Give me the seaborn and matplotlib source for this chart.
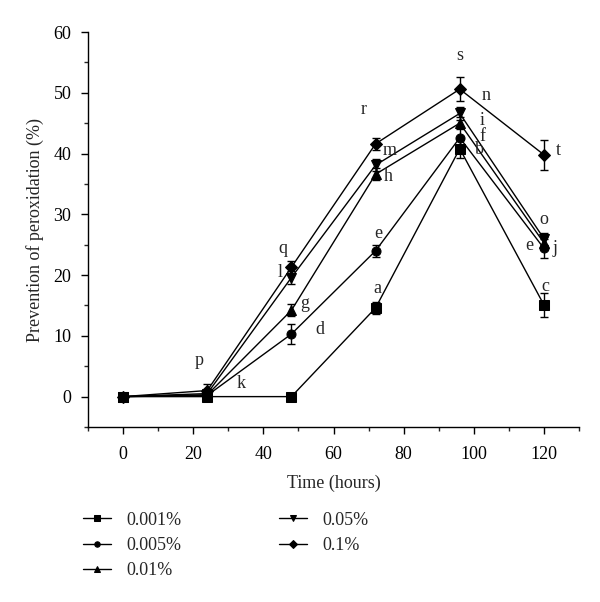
import numpy as np
import pandas as pd
import matplotlib
matplotlib.use("Agg")
import matplotlib.pyplot as plt
import seaborn as sns
from matplotlib.ticker import MultipleLocator

sns.set_style("ticks")
plt.rcParams['font.family'] = ['Liberation Serif', 'DejaVu Serif']

hours = [0, 24, 48, 72, 96, 120]
series_names = ["0.001%", "0.005%", "0.01%", "0.05%", "0.1%"]
v_0001 = [0, 0, 0, 14.6, 40.8, 15.1]
v_0005 = [0, 0.2, 10.3, 24.0, 42.6, 24.4]
v_001 = [0, 0.3, 14.2, 36.6, 45.0, 25.3]
v_005 = [0, 0.5, 19.6, 38.1, 46.6, 26.0]
v_01 = [0, 1.0, 21.3, 41.6, 50.6, 39.8]
e_0001 = [0, 0, 0, 1.0, 1.6, 2.0]
e_0005 = [0, 0.3, 1.6, 1.0, 1.6, 1.6]
e_001 = [0, 0.5, 1.0, 1.0, 1.0, 1.0]
e_005 = [0, 0.5, 1.0, 1.0, 1.0, 1.0]
e_01 = [0.3, 1.0, 1.0, 1.0, 2.0, 2.5]
markers = ["s", "o", "^", "v", "D"]

letters = ["s", "n", "r", "m", "h", "i", "f", "b", "t", "o", "e", "j", "c", "e", "a", "q", "l", "g", "d", "p", "k"]
letter_x = [96.1, 103.4, 68.7, 75.9, 75.6, 102.5, 102.5, 101.5, 124.2, 119.9, 115.9, 123.2, 120.4, 72.7, 72.5, 45.6, 44.7, 51.8, 56.1, 21.8, 33.7]
letter_y = [56.2, 49.5, 47.2, 40.5, 36.2, 45.5, 42.8, 40.6, 40.5, 29.1, 24.8, 24.4, 18.1, 26.9, 17.8, 24.4, 20.4, 15.4, 11.0, 6.0, 2.2]

values = [v_0001, v_0005, v_001, v_005, v_01]
errors = [e_0001, e_0005, e_001, e_005, e_01]

rows = []
for name, vals in zip(series_names, values):
    for h, v in zip(hours, vals):
        rows.append({"Time": h, "Value": v, "Conc": name})
df = pd.DataFrame(rows)

fig = plt.figure(figsize=(6.0, 6.02), dpi=100)
ax = fig.add_axes([0.1467, 0.2907, 0.8183, 0.6561])

sns.lineplot(data=df, x="Time", y="Value", hue="Conc", style="Conc",
             hue_order=series_names, style_order=series_names,
             palette=["black"] * 5, markers=markers, dashes=False,
             markersize=6.5, linewidth=1.0, markeredgecolor="black", ax=ax)

for vals, errs in zip(values, errors):
    ax.errorbar(hours, vals, yerr=errs, fmt="none", ecolor="black",
                elinewidth=1.0, capsize=3, capthick=1.0)

for t, x, y in zip(letters, letter_x, letter_y):
    ax.text(x, y, t, ha="center", va="center", fontsize=13)

ax.set_xlim(-10, 130)
ax.set_ylim(-5, 60)
ax.xaxis.set_major_locator(MultipleLocator(20))
ax.xaxis.set_minor_locator(MultipleLocator(10))
ax.yaxis.set_major_locator(MultipleLocator(10))
ax.yaxis.set_minor_locator(MultipleLocator(5))
ax.tick_params(which="major", direction="out", length=5, width=1, labelsize=13, colors="black")
ax.tick_params(axis="x", which="major", pad=9)
ax.tick_params(axis="y", which="major", pad=7)
ax.tick_params(which="minor", direction="out", length=3, width=1)
for s in ["top", "right"]:
    ax.spines[s].set_visible(False)
for s in ["left", "bottom"]:
    ax.spines[s].set_linewidth(1.0)
    ax.spines[s].set_color("black")
ax.set_xlabel("Time (hours)", fontsize=13, labelpad=8)
ax.set_ylabel("Prevention of peroxidation (%)", fontsize=13, labelpad=7)

handles, labels = ax.get_legend_handles_labels()
ax.get_legend().remove()
fig.legend(handles, labels, loc="upper left", bbox_to_anchor=(0.138, 0.15),
           ncol=2, frameon=False, fontsize=13, handlelength=1.55, markerscale=0.6,
           columnspacing=5.4, labelspacing=0.45, handletextpad=0.85,
           borderaxespad=0, borderpad=0)

fig.savefig("out.png", dpi=100)
